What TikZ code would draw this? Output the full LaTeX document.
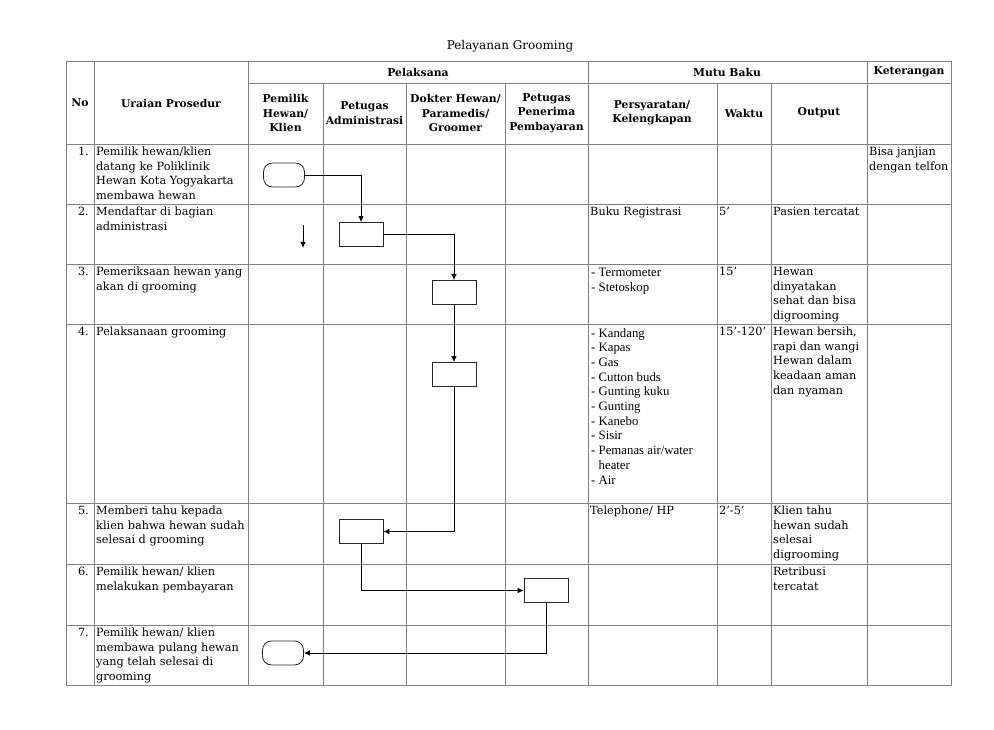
\documentclass[tikz,border=0pt]{standalone}
\usepackage{fontspec}
\setmainfont{DejaVu Serif}
\newfontfamily\timesfont{Liberation Serif}
\usetikzlibrary{arrows.meta}
\newcommand\bk{\fontsize{11.3}{14.6}\selectfont}
\newcommand\hd{\fontsize{10.8}{14.3}\selectfont\bfseries}
\newcommand\tm{\timesfont\fontsize{12.8}{14.7}\selectfont}
\begin{document}
\begin{tikzpicture}[x=1pt,y=-1pt,
  grid/.style={draw=black!50,line width=0.8pt},
  cell/.style={anchor=north west,align=left,inner sep=0pt,font=\bk},
  num/.style={anchor=north east,inner sep=0pt,font=\bk},
  head/.style={align=center,inner sep=0pt,font=\hd},
  proc/.style={draw=black!85,line width=0.8pt,minimum width=44pt,minimum height=24pt,inner sep=0pt},
  term/.style={draw=black!85,line width=0.8pt,rounded corners=9pt,minimum width=41pt,minimum height=24pt,inner sep=0pt},
  flow/.style={line width=0.8pt,-{Latex[length=6pt,width=5.5pt]}}]
\path[use as bounding box,fill=white] (0,0) rectangle (994,730);
\node[font=\fontsize{12}{14}\selectfont] (title) at (510,46) {Pelayanan Grooming};
% table
\draw[grid] (66,61) rectangle (951,685);
\draw[grid] (94,61) -- (94,685);
\draw[grid] (248,61) -- (248,685);
\draw[grid] (323,83) -- (323,685);
\draw[grid] (406,83) -- (406,685);
\draw[grid] (505,83) -- (505,685);
\draw[grid] (588,61) -- (588,685);
\draw[grid] (717,83) -- (717,685);
\draw[grid] (771,83) -- (771,685);
\draw[grid] (867,61) -- (867,685);
\draw[grid] (248,83) -- (951,83);
\draw[grid] (66,144) -- (951,144);
\draw[grid] (66,204) -- (951,204);
\draw[grid] (66,264) -- (951,264);
\draw[grid] (66,324) -- (951,324);
\draw[grid] (66,503) -- (951,503);
\draw[grid] (66,564) -- (951,564);
\draw[grid] (66,625) -- (951,625);
% header
\node[head] (hno) at (80,103) {No};
\node[head] (hur) at (171,103) {Uraian Prosedur};
\node[head] (hpl) at (418,72) {Pelaksana};
\node[head] (hmb) at (727,72) {Mutu Baku};
\node[head] (hkt) at (909,72) {Keterangan};
\node[head] (hpm) at (285.5,113) {Pemilik\\Hewan/\\Klien};
\node[head] (had) at (364.5,113) {Petugas\\Administrasi};
\node[head] (hdk) at (455.5,113) {Dokter Hewan/\\Paramedis/\\Groomer};
\node[head] (hpb) at (546.5,113) {Petugas\\Penerima\\Pembayaran};
\node[head] (hps) at (652,113) {Persyaratan/\\Kelengkapan};
\node[head] (hwk) at (744,113) {Waktu};
\node[head] (hou) at (819,113) {Output};
% uraian
\node[num] (n1) at (89,147) {1.};
\node[num] (n2) at (89,207) {2.};
\node[num] (n3) at (89,267) {3.};
\node[num] (n4) at (89,327) {4.};
\node[num] (n5) at (89,506) {5.};
\node[num] (n6) at (89,567) {6.};
\node[num] (n7) at (89,628) {7.};
\node[cell] (u1) at (96,147) {Pemilik hewan/klien\\datang ke Poliklinik\\Hewan Kota Yogyakarta\\membawa hewan};
\node[cell] (u2) at (96,207) {Mendaftar di bagian\\administrasi};
\node[cell] (u3) at (96,267) {Pemeriksaan hewan yang\\akan di grooming};
\node[cell] (u4) at (96,327) {Pelaksanaan grooming};
\node[cell] (u5) at (96,506) {Memberi tahu kepada\\klien bahwa hewan sudah\\selesai d grooming};
\node[cell] (u6) at (96,567) {Pemilik hewan/ klien\\melakukan pembayaran};
\node[cell] (u7) at (96,628) {Pemilik hewan/ klien\\membawa pulang hewan\\yang telah selesai di\\grooming};
% mutu baku
\node[cell] (s2) at (590,207) {Buku Registrasi};
\node[cell,font=\tm] (s3) at (591,268) {- Termometer\\- Stetoskop};
\node[cell,font=\tm] (s4) at (591,328) {- Kandang\\- Kapas\\- Gas\\- Cutton buds\\- Gunting kuku\\- Gunting\\- Kanebo\\- Sisir\\- Pemanas air/water\\\phantom{-~}heater\\- Air};
\node[cell] (s5) at (590,506) {Telephone/ HP};
\node[cell] (w2) at (719,207) {5’};
\node[cell] (w3) at (719,267) {15’};
\node[cell] (w4) at (719,327) {15’-120’};
\node[cell] (w5) at (719,506) {2’-5’};
\node[cell] (o2) at (773,207) {Pasien tercatat};
\node[cell] (o3) at (773,267) {Hewan\\dinyatakan\\sehat dan bisa\\digrooming};
\node[cell] (o4) at (773,327) {Hewan bersih,\\rapi dan wangi\\Hewan dalam\\keadaan aman\\dan nyaman};
\node[cell] (o5) at (773,506) {Klien tahu\\hewan sudah\\selesai\\digrooming};
\node[cell] (o6) at (773,567) {Retribusi\\tercatat};
\node[cell] (k1) at (869,147) {Bisa janjian\\dengan telfon};
% flow
\node[term] (t1) at (284,175) {};
\node[proc] (p2) at (361,234.5) {};
\node[proc] (p3) at (454,292.5) {};
\node[proc] (p4) at (454,374.5) {};
\node[proc] (p5) at (361,531.5) {};
\node[proc] (p6) at (546,590.5) {};
\node[term] (t7) at (283,653) {};
\coordinate (a1) at (303,225);
\coordinate (a2) at (303,248);
\draw[flow] (t1.east) -| (p2.north);
\draw[flow] (p2.east) -| (p3.north);
\draw[flow] (p3) -- (p4);
\draw[flow] (p4) |- (p5);
\draw[flow] (p5) |- (p6);
\draw[flow] (p6) |- (t7);
\draw[flow] (a1) -- (a2);
\end{tikzpicture}
\end{document}
